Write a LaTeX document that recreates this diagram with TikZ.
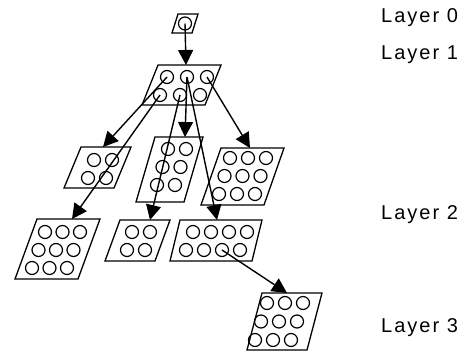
\documentclass[tikz,border=0pt]{standalone}
\usepackage{fontspec}
\newfontfamily\labelfont{Liberation Sans}[LetterSpace=10]
\usetikzlibrary{positioning, arrows.meta}
\tikzset{
  panel/.style={draw, line width=1.3pt},
  hole/.style={circle, draw, line width=1.2pt, minimum size=13pt, inner sep=0pt},
  link/.style={line width=1.4pt, -{Triangle[length=15pt, width=15pt]}},
  layer/.style={anchor=west, font=\labelfont\fontsize{20}{20}\selectfont, inner sep=0pt}
}
% parallelogram: name, top-left x, top-left y, width, height, skew
\newcommand{\panel}[6]{
  \draw[panel] (#2,#3) -- ++(#4,0) -- ++(-#6,#5) -- ++(-#4,0) -- cycle;
}
% holes: name, x0, y0, cols, rows, dx, dy, row shift
\newcommand{\holes}[8]{
  \foreach \r in {1,...,#5}
    \foreach \c in {1,...,#4}
      \node[hole] (#1-\r-\c) at ({#2+(\c-1)*#6-(\r-1)*#8}, {#3+(\r-1)*#7}) {};
}

\begin{document}
\begin{tikzpicture}[x=1pt, y=-1pt]
                \useasboundingbox (0,0) rectangle (468,354);
                % layer 0
                \panel{T}{178}{14}{20}{19}{6}
                \holes{T}{185}{23.5}{1}{1}{0}{0}{0}
                % layer 1
                \panel{L1}{158}{65}{63}{40}{16}
                \holes{L1}{167}{77}{3}{2}{20}{18}{7}
                \panel{A}{81}{147}{50}{41}{17}
                \holes{A}{94}{160}{2}{2}{18}{18}{6}
                \panel{B}{155}{137}{48}{65}{19}
                \holes{B}{168}{149}{2}{3}{18}{18}{5.5}
                \panel{C}{221}{148}{63}{57}{20}
                \holes{C}{230}{158}{3}{3}{18}{18}{5.5}
                % layer 2
                \panel{D}{37}{219}{63}{60}{22}
                \holes{D}{45}{232}{3}{3}{17.5}{18}{6.5}
                \panel{E}{120}{220}{50}{41}{15}
                \holes{E}{132}{232}{2}{2}{18}{18}{5}
                \panel{F}{180}{220}{82}{41}{10}
                \holes{F}{193}{232}{4}{2}{18}{18}{7}
                % layer 3
                \panel{G}{262}{293}{60}{57}{15}
                \holes{G}{267}{303}{3}{3}{18}{18.5}{6}
                % arrow tips on the panels
                \coordinate (L1-in) at (186,65);
                \coordinate (A-in) at (103,147);
                \coordinate (B-in) at (185,137);
                \coordinate (C-in) at (250,148);
                \coordinate (D-in) at (72,219);
                \coordinate (E-in) at (150,220);
                \coordinate (F-in) at (217,220);
                \coordinate (G-in) at (287,293);
                \draw[link] (T-1-1.center) -- (L1-in);
                \draw[link] (L1-1-1.center) -- (A-in);
                \draw[link] (L1-2-1.center) -- (D-in);
                \draw[link] (L1-1-2.center) -- (B-in);
                \draw[link] (L1-2-2.center) -- (E-in);
                \draw[link] (L1-1-2.center) -- (F-in);
                \draw[link] (L1-1-3.center) -- (C-in);
                \draw[link] (F-2-3.center) -- (G-in);
                % labels
                \node[layer] (lab0) at (381,18) {Layer 0};
                \node[layer] (lab1) at (381,55) {Layer 1};
                \node[layer] (lab2) at (381,215) {Layer 2};
                \node[layer] (lab3) at (381,328) {Layer 3};
            \end{tikzpicture}
\end{document}
